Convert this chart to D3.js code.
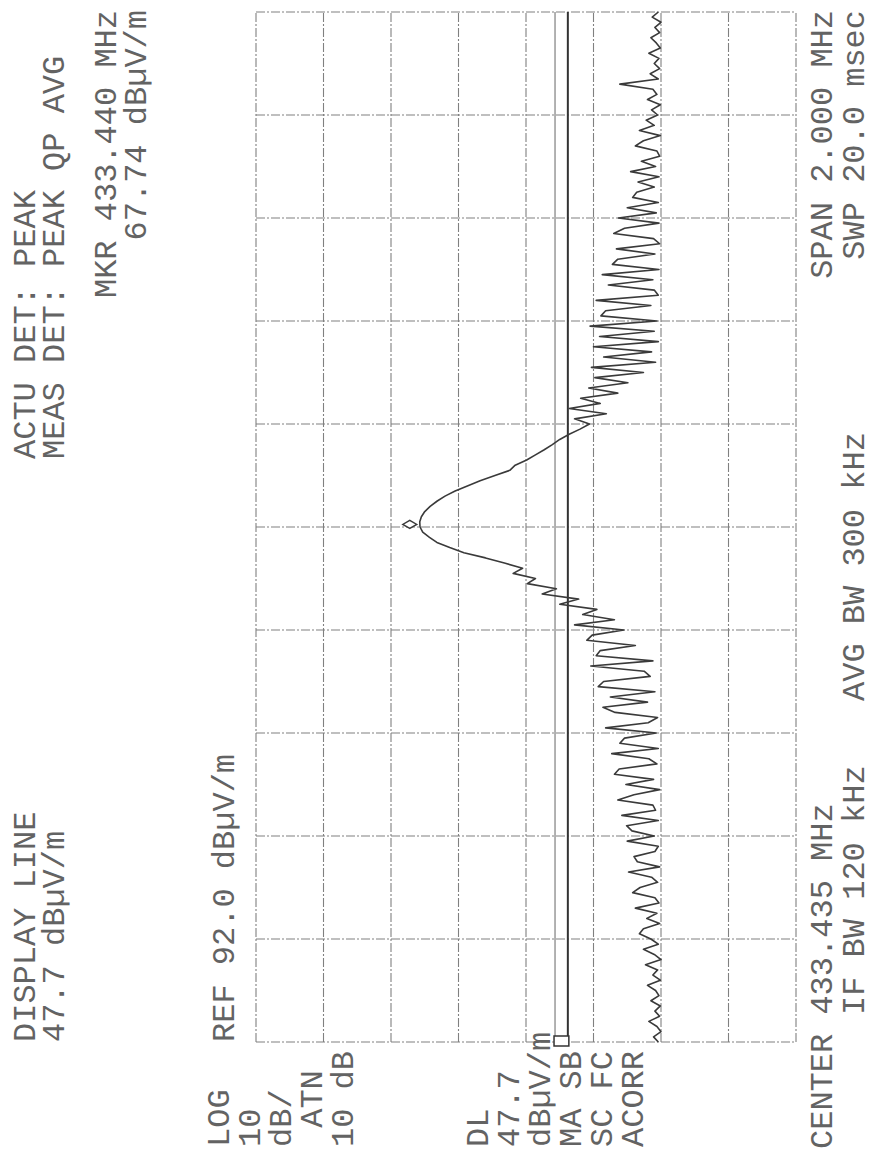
<!DOCTYPE html>
<html>
<head>
<meta charset="utf-8">
<script src="https://cdn.jsdelivr.net/npm/d3@7/dist/d3.min.js"></script>
<style>
  body { margin: 0; background: #fff; }
  text { font-family: "Liberation Mono", "DejaVu Sans Mono", monospace; font-size: 32px; fill: #636363; white-space: pre; }
</style>
</head>
<body>
<svg id="chart" width="879" height="1155"></svg>
<script>
// analyzer settings
var centerMHz = 433.435;
var spanMHz = 2.0;
var refLevel = 92.0;
var dbPerDiv = 10;
var ampDivs = 8;
var freqDivs = 10;
var displayLine = 47.7;
var limitLine = 45.8;
var markerFreq = 433.440;
var markerLevel = 67.74;

// trace, dBuV/m, 201 sweep points from low to high frequency
var traceLevels = [
  32.4, 33.1, 32.0, 32.6, 33.8, 32.2, 32.9, 32.1, 33.5, 32.3,
  32.8, 34.0, 32.1, 33.2, 32.5, 34.3, 32.0, 33.0, 34.6, 32.4,
  33.5, 35.2, 34.6, 32.2, 34.1, 32.6, 35.8, 32.3, 32.9, 36.2,
  35.1, 32.5, 33.4, 36.8, 32.2, 35.5, 36.0, 32.9, 32.4, 37.0,
  33.0, 36.3, 37.1, 32.4, 37.8, 32.8, 33.2, 38.4, 36.0, 32.2,
  37.2, 33.1, 38.9, 38.2, 32.6, 33.8, 39.3, 32.4, 38.1, 37.4,
  32.7, 40.2, 33.9, 32.5, 38.8, 40.6, 34.0, 39.5, 32.9, 41.3,
  40.5, 33.6, 34.5, 42.4, 33.2, 41.6, 41.0, 35.8, 43.0, 42.2,
  37.5, 44.8, 38.9, 43.6, 41.5, 47.0, 44.2, 49.6, 47.5, 51.8,
  50.6, 53.9, 52.5, 55.2, 58.0, 61.2, 63.3, 65.2, 66.3, 67.3,
  67.7, 67.74, 67.5, 67.0, 66.2, 65.2, 64.0, 62.5, 60.6, 58.8,
  56.6, 54.4, 53.6, 51.9, 50.6, 49.3, 48.1, 47.0, 45.6, 44.0,
  42.6, 44.8, 40.1, 45.6, 41.0, 43.9, 38.4, 42.7, 36.9, 41.8,
  34.6, 42.3, 32.8, 40.5, 33.4, 42.0, 32.4, 41.1, 33.0, 42.5,
  32.6, 40.9, 40.2, 33.5, 41.6, 32.4, 33.0, 39.8, 33.2, 40.7,
  32.3, 39.2, 38.4, 32.9, 38.6, 32.2, 33.1, 39.0, 37.4, 32.3,
  38.3, 32.7, 37.0, 32.4, 36.2, 35.6, 33.0, 35.4, 32.3, 36.5,
  32.8, 34.9, 32.2, 32.6, 35.8, 34.6, 32.1, 35.2, 33.0, 34.2,
  32.5, 33.4, 32.1, 34.0, 32.6, 33.2, 38.1, 32.4, 33.6, 32.2,
  33.0, 32.3, 33.8, 32.1, 32.7, 33.5, 32.2, 32.9, 32.0, 33.3,
  32.4
];

// annotation text
var headerLeft = ['DISPLAY LINE', '47.7 dBµV/m'];
var detectorLines = ['ACTU DET: PEAK', 'MEAS DET: PEAK QP AVG'];
var markerLines = ['MKR 433.440 MHz', '67.74 dBµV/m'];
var refLabel = 'REF 92.0 dBµV/m';
var sideTop = ['LOG', '10', 'dB/', ' ATN', '10 dB'];
var sideBottom = ['DL', '47.7', 'dBµV/m', 'MA SB', 'SC FC', 'ACORR'];
var footLeft = ['CENTER 433.435 MHz', 'IF BW 120 kHz'];
var footMid = 'AVG BW 300 kHz';
var footRight = ['SPAN 2.000 MHz', 'SWP 20.0 msec'];

// the plot was printed sideways, so draw it landscape and turn it
var svg = d3.select('#chart');
var g = svg.append('g').attr('transform', 'translate(0,1155) rotate(-90)');

var fStart = centerMHz - spanMHz / 2;
var fStep = spanMHz / (traceLevels.length - 1);

var x = d3.scaleLinear()
    .domain([fStart, centerMHz + spanMHz / 2])
    .range([113, 1143]);
var y = d3.scaleLinear()
    .domain([refLevel, refLevel - ampDivs * dbPerDiv])
    .range([256, 796]);

// graticule
var freqLines = d3.range(freqDivs + 1).map(function(k){ return fStart + k * spanMHz / freqDivs; });
var ampLines = d3.range(ampDivs + 1).map(function(k){ return refLevel - k * dbPerDiv; });

g.selectAll('line.vgrid')
    .data(freqLines)
    .enter().append('line')
    .attr('class', 'vgrid')
    .attr('x1', function(d){ return x(d); })
    .attr('x2', function(d){ return x(d); })
    .attr('y1', y.range()[0])
    .attr('y2', y.range()[1])
    .attr('stroke', '#808080')
    .attr('stroke-width', 1.1)
    .attr('stroke-dasharray', '9,2,2,2');

g.selectAll('line.hgrid')
    .data(ampLines)
    .enter().append('line')
    .attr('class', 'hgrid')
    .attr('x1', x.range()[0])
    .attr('x2', x.range()[1])
    .attr('y1', function(d){ return y(d); })
    .attr('y2', function(d){ return y(d); })
    .attr('stroke', '#808080')
    .attr('stroke-width', 1.1)
    .attr('stroke-dasharray', '9,2,2,2');

// display line and the heavier line just under it
g.append('line')
    .attr('x1', x.range()[0]).attr('x2', x.range()[1])
    .attr('y1', y(displayLine)).attr('y2', y(displayLine))
    .attr('stroke', '#666')
    .attr('stroke-width', 1);
g.append('line')
    .attr('x1', x.range()[0]).attr('x2', x.range()[1])
    .attr('y1', y(limitLine)).attr('y2', y(limitLine))
    .attr('stroke', '#333')
    .attr('stroke-width', 2);
g.append('rect')
    .attr('x', x.range()[0] - 4)
    .attr('y', y(displayLine) - 1)
    .attr('width', 10)
    .attr('height', y(limitLine) - y(displayLine) + 2)
    .attr('fill', '#fff')
    .attr('stroke', '#333')
    .attr('stroke-width', 1.5);

// trace
var line = d3.line()
    .x(function(d, i){ return x(fStart + i * fStep); })
    .y(function(d){ return y(d); });

g.append('path')
    .datum(traceLevels)
    .attr('d', line)
    .attr('fill', 'none')
    .attr('stroke', '#3a3a3a')
    .attr('stroke-width', 1.6)
    .attr('stroke-linejoin', 'round');

// marker diamond, drawn just above the peak
var mx = x(markerFreq), my = y(markerLevel) - 10;
g.append('path')
    .attr('d', 'M' + (mx - 4) + ',' + my + 'L' + mx + ',' + (my - 7) + 'L' + (mx + 4) + ',' + my + 'L' + mx + ',' + (my + 7) + 'Z')
    .attr('fill', '#fff')
    .attr('stroke', '#3a3a3a')
    .attr('stroke-width', 1.4);

// texts
function addText(str, u, v, anchor){
    g.append('text')
        .text(str)
        .attr('x', u)
        .attr('y', v)
        .attr('text-anchor', anchor || 'start');
}

headerLeft.forEach(function(s, i){ addText(s, 113, 35 + i * 29); });
detectorLines.forEach(function(s, i){ addText(s, 696, 35 + i * 29); });
markerLines.forEach(function(s, i){ addText(s, 1145, 116 + i * 30, 'end'); });

addText(refLabel, 113, 234);
sideTop.forEach(function(s, i){ addText(s, 8, 229 + i * 31); });
sideBottom.forEach(function(s, i){ addText(s, 8, 488 + i * 31); });

addText(footLeft[0], 6, 832);
addText(footLeft[1], 140, 864);
addText(footMid, 454, 864);
footRight.forEach(function(s, i){ addText(s, 1145, 832 + i * 32, 'end'); });
</script>
</body>
</html>
